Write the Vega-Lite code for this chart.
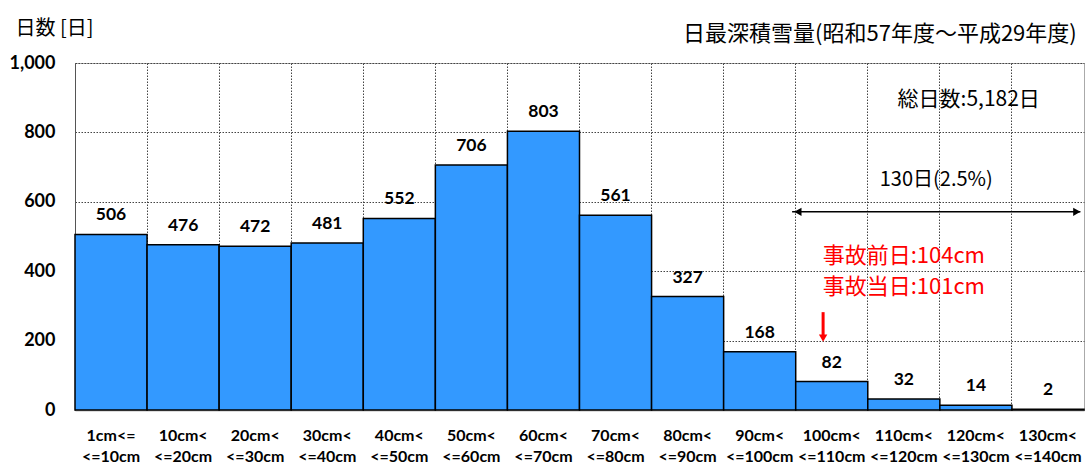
{
  "$schema": "https://vega.github.io/schema/vega-lite/v6.json",
  "width": 1009,
  "height": 347,
  "autosize": "none",
  "padding": {"left": 75, "top": 63, "right": 1, "bottom": 54},
  "config": {
    "view": {"stroke": "#aaaaaa", "strokeWidth": 1},
    "font": "Noto Sans CJK JP"
  },
  "title": {
    "text": "日最深積雪量(昭和57年度～平成29年度)",
    "anchor": "end",
    "fontSize": 22,
    "fontWeight": "normal",
    "font": "Noto Sans CJK JP",
    "color": "#000000",
    "offset": -28,
    "dx": -8
  },
  "datasets": {
    "bins": [
      {"label": "1cm<=|<=10cm", "count": 506},
      {"label": "10cm<|<=20cm", "count": 476},
      {"label": "20cm<|<=30cm", "count": 472},
      {"label": "30cm<|<=40cm", "count": 481},
      {"label": "40cm<|<=50cm", "count": 552},
      {"label": "50cm<|<=60cm", "count": 706},
      {"label": "60cm<|<=70cm", "count": 803},
      {"label": "70cm<|<=80cm", "count": 561},
      {"label": "80cm<|<=90cm", "count": 327},
      {"label": "90cm<|<=100cm", "count": 168},
      {"label": "100cm<|<=110cm", "count": 82},
      {"label": "110cm<|<=120cm", "count": 32},
      {"label": "120cm<|<=130cm", "count": 14},
      {"label": "130cm<|<=140cm", "count": 2}
    ],
    "notes": [
      {"text": "総日数:5,182日", "x": 12.4, "y": 893, "color": "black", "size": 21},
      {"text": "130日(2.5%)", "x": 11.95, "y": 663, "color": "black", "size": 20},
      {"text": "事故前日:104cm", "x": 11.5, "y": 444, "color": "red", "size": 22},
      {"text": "事故当日:101cm", "x": 11.5, "y": 354, "color": "red", "size": 22}
    ],
    "span": [{"x": 9.95, "x2": 13.95, "y": 571}],
    "heads": [
      {"x": 10.03, "y": 571, "shape": "triangle-left", "color": "black"},
      {"x": 13.9, "y": 571, "shape": "triangle-right", "color": "black"}
    ],
    "redline": [{"x": 10.38, "y": 282, "y2": 215}],
    "redhead": [{"x": 10.38, "y": 207}]
  },
  "resolve": {"scale": {"x": "independent"}, "axis": {"x": "independent"}},
  "layer": [
    {
      "layer": [
        {
          "data": {"name": "bins"},
          "mark": {"type": "bar", "color": "#3399FF", "stroke": "#000000", "strokeWidth": 1.5},
          "encoding": {
            "x": {
              "field": "label", "type": "nominal", "sort": null,
              "scale": {"paddingInner": 0, "paddingOuter": 0},
              "axis": {
                "title": null,
                "labelAngle": 0,
                "bandPosition": 0,
                "labelExpr": "split(datum.label, '|')",
                "labelFont": "Lato",
                "labelFontWeight": "bold",
                "labelFontSize": 16,
                "labelColor": "#000000",
                "labelLineHeight": 21,
                "labelBaseline": "top",
                "labelPadding": 17,
                "ticks": false,
                "tickSize": 0,
                "domainColor": "#bbbbbb",
                "domainWidth": 2,
                "grid": true,
                "gridColor": "#444444",
                "gridDash": [1.5, 1.5],
                "gridWidth": 1,
                "labelOverlap": false
              }
            },
            "y": {
              "field": "count", "type": "quantitative",
              "scale": {"domain": [0, 1000]},
              "axis": {
                "title": "日数 [日]",
                "titleAngle": 0,
                "titleAlign": "left",
                "titleBaseline": "middle",
                "titleX": -60,
                "titleY": -35,
                "titleFontSize": 20,
                "titleFontWeight": "normal",
                "titleFont": "Noto Sans CJK JP",
                "titleColor": "#000000",
                "values": [0, 200, 400, 600, 800, 1000],
                "format": ",d",
                "labelFont": "Lato",
                "labelFontWeight": "bold",
                "labelFontSize": 18,
                "labelColor": "#000000",
                "labelPadding": 20,
                "ticks": false,
                "tickSize": 0,
                "domainColor": "#555555",
                "grid": true,
                "gridColor": "#444444",
                "gridDash": [1.5, 1.5],
                "gridWidth": 1
              }
            }
          }
        },
        {
          "data": {"name": "bins"},
          "mark": {"type": "text", "font": "Lato", "fontWeight": "bold", "fontSize": 17.5, "baseline": "middle", "dy": -19, "color": "#000000"},
          "encoding": {
            "x": {"field": "label", "type": "nominal", "sort": null},
            "y": {"field": "count", "type": "quantitative"},
            "text": {"field": "count", "type": "quantitative"}
          }
        }
      ]
    },
    {
      "layer": [
        {
          "data": {"name": "notes"},
          "mark": {"type": "text", "font": "Noto Sans CJK JP", "baseline": "middle", "align": "center"},
          "encoding": {
            "x": {"field": "x", "type": "quantitative", "scale": {"domain": [0, 14]}, "axis": null},
            "y": {"field": "y", "type": "quantitative"},
            "text": {"field": "text"},
            "color": {"field": "color", "type": "nominal", "scale": null},
            "size": {"field": "size", "type": "quantitative", "scale": null}
          }
        },
        {
          "data": {"name": "span"},
          "mark": {"type": "rule", "color": "#000000", "strokeWidth": 1.5},
          "encoding": {
            "x": {"field": "x", "type": "quantitative", "scale": {"domain": [0, 14]}, "axis": null},
            "x2": {"field": "x2"},
            "y": {"field": "y", "type": "quantitative"}
          }
        },
        {
          "data": {"name": "heads"},
          "mark": {"type": "point", "filled": true, "size": 70, "opacity": 1},
          "encoding": {
            "x": {"field": "x", "type": "quantitative", "scale": {"domain": [0, 14]}, "axis": null},
            "y": {"field": "y", "type": "quantitative"},
            "shape": {"field": "shape", "type": "nominal", "scale": null},
            "color": {"field": "color", "type": "nominal", "scale": null}
          }
        },
        {
          "data": {"name": "redline"},
          "mark": {"type": "rule", "color": "#ff0000", "strokeWidth": 3},
          "encoding": {
            "x": {"field": "x", "type": "quantitative", "scale": {"domain": [0, 14]}, "axis": null},
            "y": {"field": "y", "type": "quantitative"},
            "y2": {"field": "y2"}
          }
        },
        {
          "data": {"name": "redhead"},
          "mark": {"type": "point", "shape": "triangle-down", "filled": true, "size": 70, "color": "#ff0000", "opacity": 1},
          "encoding": {
            "x": {"field": "x", "type": "quantitative", "scale": {"domain": [0, 14]}, "axis": null},
            "y": {"field": "y", "type": "quantitative"}
          }
        }
      ]
    }
  ]
}
